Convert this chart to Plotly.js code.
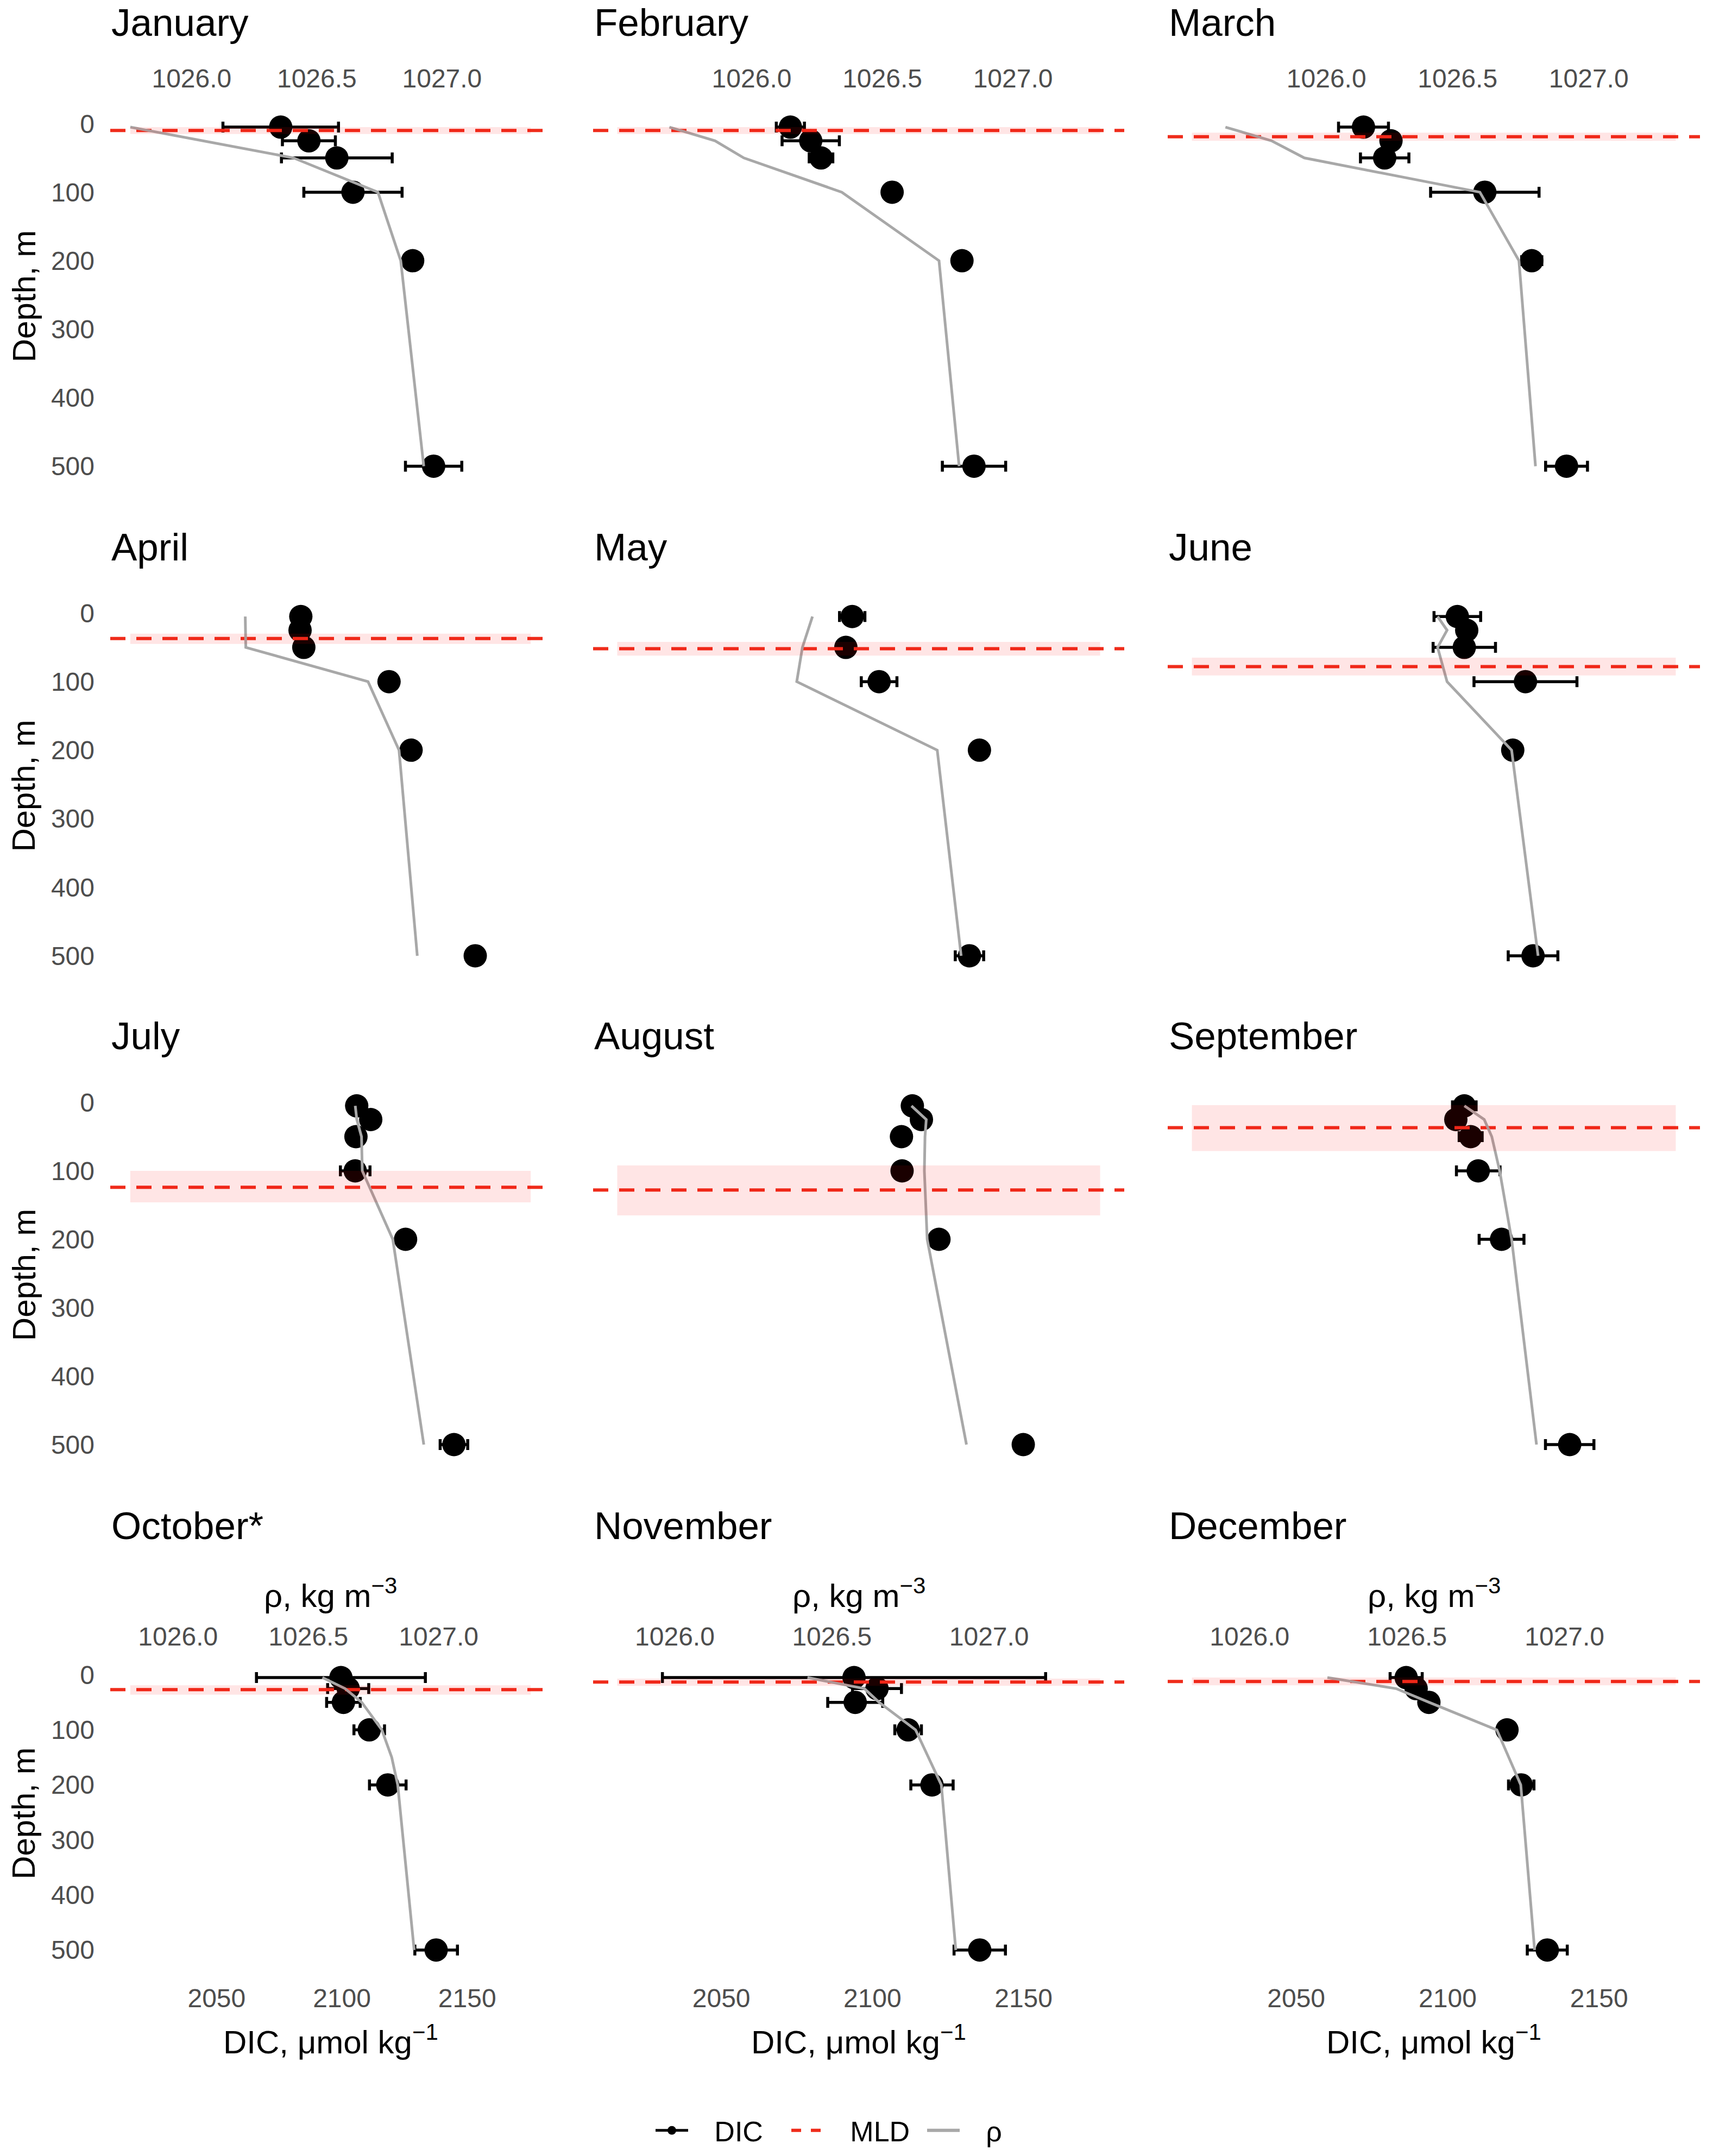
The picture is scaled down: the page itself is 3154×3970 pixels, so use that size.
<!DOCTYPE html>
<html lang="en">
<head>
<meta charset="UTF-8">
<script src="https://cdn.plot.ly/plotly-3.0.1.min.js"></script>
<style>body{margin:0;background:#fff}</style>
<title>DIC profiles</title>
</head>
<body>
<div id="chart" style="width:3154px;height:3970px;"></div>
<script>
// ---- data ----
const months = ['January', 'February', 'March', 'April', 'May', 'June',
  'July', 'August', 'September', 'October*', 'November', 'December']
const depth = [5, 25, 50, 100, 200, 500]
const depthOctRho = [5, 25, 50, 100, 150, 200, 300, 400, 500]

// DIC, umol/kg (one row per month, one value per depth)
const dic = [
  [2071.6, 2083.3, 2094.9, 2101.6, 2126.4, 2135.1],
  [2050.0, 2058.1, 2062.2, 2090.5, 2118.3, 2123.1],
  [2049.3, 2060.2, 2057.7, 2097.4, 2116.0, 2129.8],
  [2083.6, 2083.3, 2084.8, 2118.8, 2127.6, 2153.2],
  [2093.3, null, 2091.2, 2102.2, 2135.4, 2132.1],
  [2103.2, 2106.3, 2105.5, 2125.7, 2121.5, 2128.2],
  [2105.9, 2111.5, 2105.6, 2105.3, 2125.4, 2144.7],
  [2113.2, 2116.2, 2109.6, 2109.8, 2122.0, 2149.9],
  [2105.5, 2102.7, 2107.6, 2110.1, 2117.8, 2140.3],
  [2099.6, 2102.5, 2100.6, 2110.9, 2118.3, 2137.6],
  [2093.9, 2101.5, 2094.3, 2111.8, 2119.7, 2135.5],
  [2086.3, 2089.6, 2093.8, 2119.6, 2124.3, 2132.9]
]
// DIC standard deviation
const dicSd = [
  [24.0, 11.0, 23.0, 20.4, 0, 11.7],
  [5.6, 11.4, 4.7, 0, 0, 12.6],
  [9.9, 0, 9.6, 21.5, 4.0, 8.3],
  [0, 0, 0, 0, 0, 0],
  [4.2, 0, 0, 5.9, 0, 4.7],
  [7.7, 0, 10.3, 17.0, 0, 8.2],
  [0, 0, 0, 5.9, 0, 5.5],
  [0, 0, 0, 0, 0, 0],
  [3.9, 0, 3.8, 7.2, 7.4, 8.0],
  [33.7, 8.2, 6.7, 6.1, 7.3, 8.5],
  [63.4, 8.1, 9.1, 4.4, 7.0, 8.5],
  [5.3, 0, 0, 0, 4.2, 6.6]
]
// potential density, kg/m3
const rho = [
  [1025.755, 1026.044, 1026.407, 1026.744, 1026.835, 1026.927],
  [1025.685, 1025.860, 1025.970, 1026.345, 1026.717, 1026.794],
  [1025.615, 1025.791, 1025.916, 1026.585, 1026.734, 1026.797],
  [1026.258, 1026.259, 1026.260, 1026.729, 1026.848, 1026.918],
  [1026.438, null, 1026.406, 1026.388, 1026.835, 1026.911],
  [1026.597, 1026.627, 1026.597, 1026.627, 1026.832, 1026.916],
  [1026.680, 1026.686, 1026.704, 1026.707, 1026.824, 1026.943],
  [1026.753, 1026.800, 1026.796, 1026.794, 1026.803, 1026.928],
  [1026.682, 1026.745, 1026.769, 1026.794, 1026.832, 1026.911],
  [1026.554, 1026.641, 1026.705, 1026.782, 1026.820, 1026.843, 1026.864, 1026.885, 1026.906],
  [1026.422, 1026.603, 1026.650, 1026.766, 1026.848, 1026.894],
  [1026.247, 1026.465, 1026.570, 1026.785, 1026.861, 1026.905]
]
// mixed layer depth and its spread, m
const mld = [10, 10, 19, 37, 52, 78, 124, 128, 37, 27, 13, 12]
const mldLo = [5, 5, 13, 30, 42, 65, 100, 92, 4, 19, 7, 5]
const mldHi = [15, 15, 25, 45, 62, 91, 146, 165, 71, 36, 20, 19]

// ---- axes ----
const rhoLim = [
  [1025.675, 1027.434], [1025.393, 1027.426], [1025.395, 1027.424],
  [1025.74, 1027.43], [1025.74, 1027.43], [1025.74, 1027.43],
  [1025.74, 1027.43], [1025.74, 1027.43], [1025.74, 1027.43],
  [1025.74, 1027.43], [1025.74, 1027.43], [1025.74, 1027.43]
]
// secondary axis: density mapped onto the DIC scale
function rhoToDic(r) { return 2034.6 + 104 * (r - 1026) }

const W = 3154, H = 3970
const colPx = [[203, 1014], [1092, 2070], [2150, 3130]]
const rowPx = [[202.5, 890], [1103.7, 1791.5], [2004.8, 2691.5], [3063.7, 3616]]
const titleBase = [66, 1031.5, 1931.5, 2833]
const red = '#ef2c1b', grey = '#a8a8a8', tickGrey = '#4d4d4d'
const fontFam = 'Liberation Sans, Arial, Helvetica, sans-serif'
const pad = '\u00a0\u00a0\u00a0'

function fx(v) { return v / W }
function fy(v) { return 1 - v / H }

var traces = []
var shapes = []
var annotations = []
var layout = {
    width: W, height: H,
    margin: {l: 0, r: 0, t: 0, b: 0},
    paper_bgcolor: '#fff', plot_bgcolor: '#fff',
    font: {family: fontFam, size: 48, color: tickGrey},
    showlegend: true,
    legend: {
        orientation: 'h', x: 0.5, xanchor: 'center', y: fy(3923), yanchor: 'middle',
        font: {size: 52, color: '#000'}, itemwidth: 60,
        entrywidth: 175, entrywidthmode: 'pixels', bgcolor: 'rgba(0,0,0,0)'
    }
}

for (var i = 0; i < 12; i++) {
    var r = Math.floor(i / 3), c = i % 3
    var n1 = 2 * i + 1, n2 = 2 * i + 2
    var xDic = n1 === 1 ? 'x' : 'x' + n1
    var xRho = 'x' + n2
    var yId = i === 0 ? 'y' : 'y' + (i + 1)
    var dicLo = rhoToDic(rhoLim[i][0]), dicHi = rhoToDic(rhoLim[i][1])
    var xDom = [fx(colPx[c][0]), fx(colPx[c][1])]
    var yDom = [fy(rowPx[r][1]), fy(rowPx[r][0])]

    layout['xaxis' + (n1 === 1 ? '' : n1)] = {
        domain: xDom, anchor: yId, range: [dicLo, dicHi],
        showgrid: false, zeroline: false, showline: false, ticks: '', ticklen: 0,
        tickvals: [2050, 2100, 2150], showticklabels: r === 3,
        ticklabelstandoff: 31, tickfont: {size: 48, color: tickGrey}
    }
    layout['xaxis' + n2] = {
        overlaying: xDic, side: 'top', anchor: yId, range: rhoLim[i],
        showgrid: false, zeroline: false, showline: false, ticks: '', ticklen: 0,
        tickvals: [1026, 1026.5, 1027], ticktext: ['1026.0', '1026.5', '1027.0'],
        showticklabels: r === 0 || r === 3,
        ticklabelstandoff: r === 0 ? 31 : 23, tickfont: {size: 48, color: tickGrey}
    }
    layout['yaxis' + (i === 0 ? '' : i + 1)] = {
        domain: yDom, anchor: xDic, range: [525, -20],
        showgrid: false, zeroline: false, showline: false, ticks: '', ticklen: 0,
        tickvals: [0, 100, 200, 300, 400, 500], showticklabels: c === 0,
        ticklabelstandoff: 28, tickfont: {size: 48, color: tickGrey}
    }

    // DIC means with error bars
    traces.push({
        x: dic[i], y: depth, xaxis: xDic, yaxis: yId,
        mode: 'markers', marker: {size: 43, color: '#000'},
        error_x: {type: 'data', array: dicSd[i], visible: true, color: '#000', thickness: 5.5, width: 10},
        showlegend: false, hoverinfo: 'x+y'
    })
    // mixed layer depth
    traces.push({
        x: [dicLo, dicHi], y: [mld[i], mld[i]], xaxis: xDic, yaxis: yId,
        mode: 'lines', line: {color: red, width: 6, dash: '28px,20px'},
        showlegend: false, hoverinfo: 'skip'
    })
    // density profile
    traces.push({
        x: rho[i], y: i === 9 ? depthOctRho : depth, xaxis: xRho, yaxis: yId,
        mode: 'lines', line: {color: grey, width: 5}, connectgaps: true,
        showlegend: false
    })

    shapes.push({
        type: 'rect', xref: xDic + ' domain', yref: yId,
        x0: 1 / 22, x1: 21 / 22, y0: mldLo[i], y1: mldHi[i],
        fillcolor: 'rgba(255,0,0,0.1)', line: {width: 0}, layer: 'above'
    })

    annotations.push({
        text: months[i], xref: 'paper', yref: 'paper',
        x: fx(colPx[c][0]), xanchor: 'left', y: fy(titleBase[r] - 24), yanchor: 'middle',
        showarrow: false, font: {size: 71, color: '#000'}
    })
    if (c === 0) {
        annotations.push({
            text: 'Depth, m', xref: 'paper', yref: 'paper', textangle: -90,
            x: fx(44), y: fy((rowPx[r][0] + rowPx[r][1]) / 2), xanchor: 'center', yanchor: 'middle',
            showarrow: false, font: {size: 60, color: '#000'}
        })
    }
    if (r === 3) {
        var mid = fx((colPx[c][0] + colPx[c][1]) / 2)
        annotations.push({
            text: 'ρ, kg m<sup>−3</sup>', xref: 'paper', yref: 'paper',
            x: mid, y: fy(2934), xanchor: 'center', yanchor: 'middle',
            showarrow: false, font: {size: 60, color: '#000'}
        })
        annotations.push({
            text: 'DIC, μmol kg<sup>−1</sup>', xref: 'paper', yref: 'paper',
            x: mid, y: fy(3756), xanchor: 'center', yanchor: 'middle',
            showarrow: false, font: {size: 60, color: '#000'}
        })
    }
}

// legend entries
traces.push({x: [null], y: [null], name: pad + 'DIC', mode: 'lines+markers',
    line: {color: '#000', width: 5}, marker: {size: 30, color: '#000'}, showlegend: true})
traces.push({x: [null], y: [null], name: pad + 'MLD', mode: 'lines',
    line: {color: red, width: 6, dash: 'dash'}, showlegend: true})
traces.push({x: [null], y: [null], name: pad + 'ρ', mode: 'lines',
    line: {color: grey, width: 6}, showlegend: true})

layout.shapes = shapes
layout.annotations = annotations

Plotly.newPlot('chart', traces, layout, {staticPlot: true})
</script>
</body>
</html>
